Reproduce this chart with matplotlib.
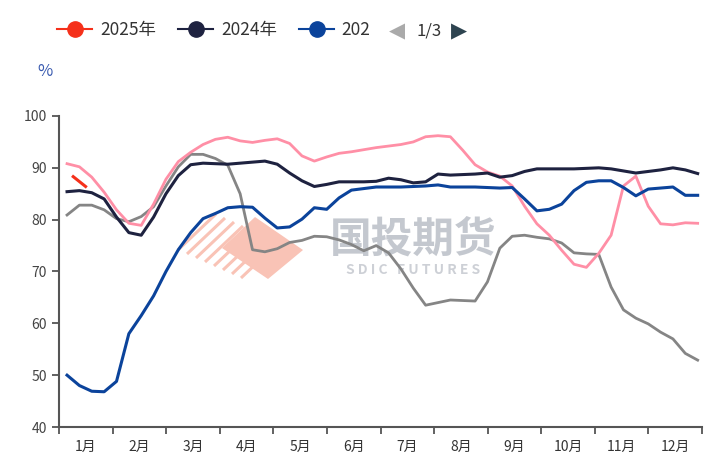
import numpy as np
import matplotlib
matplotlib.use("Agg")
from matplotlib import pyplot as plt
from matplotlib.lines import Line2D
from matplotlib.patches import Polygon

plt.rcParams['font.family'] = ['Noto Sans CJK SC', 'DejaVu Sans']

months = [f"{m}月" for m in range(1, 13)]

# weekly values, %
y2025 = [np.nan, 88.3, 86.4]
y2024 = [85.4, 85.6, 85.2, 84.0, 80.5, 77.5, 77.0, 80.5, 85.0, 88.5,
         90.6, 90.9, 90.8, 90.7, 90.9, 91.1, 91.3, 90.7, 89.0, 87.5,
         86.4, 86.8, 87.3, 87.3, 87.3, 87.4, 88.0, 87.7, 87.1, 87.3,
         88.8, 88.6, 88.7, 88.8, 89.0, 88.2, 88.5, 89.3, 89.8, 89.8,
         89.8, 89.8, 89.9, 90.0, 89.8, 89.4, 89.0, 89.3, 89.6, 90.0,
         89.6, 88.9]
y2023 = [50.0, 48.0, 46.9, 46.8, 48.8, 58.0, 61.5, 65.3, 70.0, 74.2,
         77.5, 80.2, 81.2, 82.3, 82.5, 82.4, 80.3, 78.4, 78.6, 80.1,
         82.3, 82.0, 84.2, 85.7, 86.0, 86.3, 86.3, 86.3, 86.4, 86.5,
         86.7, 86.3, 86.3, 86.3, 86.2, 86.1, 86.2, 84.0, 81.7, 82.0,
         83.0, 85.6, 87.2, 87.5, 87.5, 86.2, 84.6, 85.9, 86.1, 86.3,
         84.7, 84.7]
y2022 = [90.8, 90.2, 88.2, 85.3, 81.9, 79.3, 78.9, 83.0, 87.8, 91.2,
         93.0, 94.5, 95.5, 95.9, 95.2, 94.9, 95.3, 95.6, 94.7, 92.3,
         91.3, 92.1, 92.8, 93.1, 93.5, 93.9, 94.2, 94.5, 95.0, 96.0,
         96.2, 96.0, 93.4, 90.6, 89.2, 88.4, 86.5, 82.6, 79.2, 77.0,
         74.1, 71.4, 70.8, 73.5, 77.0, 86.5, 88.4, 82.6, 79.2, 79.0,
         79.4, 79.3]
y2021 = [80.9, 82.8, 82.8, 81.9, 80.2, 79.6, 80.6, 82.5, 86.5, 90.2,
         92.6, 92.6, 91.8, 90.5, 85.0, 74.2, 73.8, 74.4, 75.6, 76.0,
         76.8, 76.7, 76.1, 75.2, 74.0, 75.0, 73.6, 70.5, 66.8, 63.5,
         64.0, 64.5, 64.4, 64.3, 68.0, 74.5, 76.8, 77.0, 76.6, 76.3,
         75.5, 73.6, 73.4, 73.3, 67.0, 62.6, 61.0, 59.9, 58.3, 57.0,
         54.2, 52.9]

c2025, c2024, c2023 = "#F5301A", "#1E2240", "#0B439B"
c2022, c2021 = "#FF8FA6", "#858585"

fig = plt.figure(figsize=(7.05, 4.61), dpi=100)
ax = fig.add_axes([59 / 705, 1 - 427 / 461, 643 / 705, 311 / 461])


def px(x, y):
    # picture pixels -> axes fraction, for the watermark only
    return ((x - 59) / 643, (427 - y) / 311)


# watermark
ax.text(*px(413, 240), "国投期货", transform=ax.transAxes, fontsize=30,
        color="#C4C8CF", ha="center", va="center", fontweight="bold",
        zorder=0)
ax.text(*px(413, 270), "S D I C   F U T U R E S", transform=ax.transAxes,
        fontsize=10, color="#CDD0D6", ha="center", va="center",
        fontweight="bold", zorder=0)
ax.add_patch(Polygon([px(255, 217), px(303, 250), px(268, 279), px(222, 248)],
                     closed=True, transform=ax.transAxes,
                     facecolor="#F9C3B6", edgecolor="none", zorder=0))
for k in range(8):
    sx, sy = 178 + k * 9, 250 + k * 4
    ax.plot(*zip(px(sx, sy), px(sx + 38, sy - 36)), transform=ax.transAxes,
            color="#F9C3B6", lw=2.2, zorder=0, solid_capstyle="butt")

weeks = np.arange(52)
ax.plot(weeks, y2021, color=c2021, lw=2, zorder=2)
ax.plot(weeks, y2022, color=c2022, lw=2, zorder=2)
ax.plot(weeks, y2023, color=c2023, lw=2.2, zorder=3)
ax.plot(weeks, y2024, color=c2024, lw=2.2, zorder=4)
ax.plot(weeks[:len(y2025)] - 0.5, y2025, color=c2025, lw=2.2, zorder=5)

x0 = -0.65
ax.set_xlim(x0, x0 + 52)
ax.set_ylim(40, 100)
ax.set_yticks(range(40, 101, 10))
edges = x0 + np.arange(13) * 52 / 12
ax.set_xticks(edges)
ax.set_xticklabels([])
ax.set_xticks(edges[:-1] + 52 / 24, minor=True)
ax.set_xticklabels(months, minor=True)
ax.tick_params(axis="x", which="minor", length=0, pad=9, labelsize=10,
               labelcolor="#333333")
ax.tick_params(axis="x", which="major", length=5, width=1.3, color="#555555",
               direction="out")
ax.tick_params(axis="y", length=5, width=1.3, color="#555555",
               labelsize=10, labelcolor="#444444")
for s in ("top", "right"):
    ax.spines[s].set_visible(False)
for s in ("left", "bottom"):
    ax.spines[s].set_color("#555555")
    ax.spines[s].set_linewidth(1.5)

fig.text(37 / 705, 1 - 72 / 461, "%", color="#3A5BB0", fontsize=12,
         ha="left", va="center")

handles = [Line2D([], [], color=c, lw=1.5, marker="o", markersize=11)
           for c in (c2025, c2024, c2023)]
fig.legend(handles, ["2025年", "2024年", "202"], loc="center",
           bbox_to_anchor=(214 / 705, 1 - 30 / 461), ncol=3, frameon=False,
           fontsize=12.5, handlelength=2.0, handletextpad=0.45,
           columnspacing=1.3, labelcolor="#333333", borderpad=0.1)
fig.text(397 / 705, 1 - 31 / 461, "◀", color="#AAAAAA", fontsize=15,
         ha="center", va="center", family="DejaVu Sans")
fig.text(429 / 705, 1 - 31 / 461, "1/3", color="#333333", fontsize=12,
         ha="center", va="center")
fig.text(459 / 705, 1 - 31 / 461, "▶", color="#2E4450", fontsize=15,
         ha="center", va="center", family="DejaVu Sans")

fig.savefig("out.png", dpi=100)
